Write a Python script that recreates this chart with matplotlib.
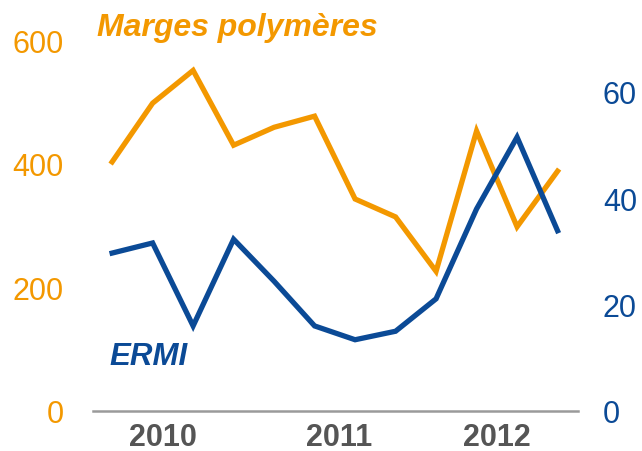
import matplotlib
matplotlib.use("Agg")
import matplotlib.pyplot as plt

plt.rcParams['font.family'] = ['Liberation Sans', 'DejaVu Sans']

# quarterly points, 2010 -> 2012
periods = list(range(12))
marges = [403, 498, 551, 430, 459, 477, 343, 314, 226, 453, 298, 388]
ermi = [29.7, 31.6, 16.0, 32.3, 24.4, 16.0, 13.4, 15.0, 21.1, 38.0, 51.5, 33.9]
year_labels = ['2010', '2011', '2012']
year_pos = [1.25, 5.6, 9.5]
left_ticks = [0, 200, 400, 600]
right_ticks = [0, 20, 40, 60]

orange = '#F39800'
blue = '#0B4A96'
grey = '#555555'

fig = plt.figure(figsize=(6.42, 4.52), dpi=100)
ax = fig.add_axes([0.145, 0.0885, 0.755, 0.867])
ax2 = ax.twinx()

ax.plot(periods, marges, color=orange, lw=3.8, solid_joinstyle='miter')
ax2.plot(periods, ermi, color=blue, lw=3.8, solid_joinstyle='miter')

ax.set_xlim(-0.47, 11.5)
ax.set_ylim(0, 634)
ax2.set_ylim(0, 73.7)

for a in (ax, ax2):
    for s in a.spines.values():
        s.set_visible(False)
ax.spines['bottom'].set_visible(True)
ax.spines['bottom'].set_color('#9a9a9a')
ax.spines['bottom'].set_linewidth(1.8)

ax.set_yticks(left_ticks)
ax.set_yticklabels([str(v) for v in left_ticks])
ax.tick_params(axis='y', length=0, pad=21, labelsize=22, labelcolor=orange)
ax2.set_yticks(right_ticks)
ax2.set_yticklabels([str(v) for v in right_ticks])
ax2.tick_params(axis='y', length=0, pad=18, labelsize=22, labelcolor=blue)

ax.set_xticks(year_pos)
ax.set_xticklabels(year_labels, fontweight='bold', color=grey)
ax.tick_params(axis='x', length=0, pad=8, labelsize=22)

fig.text(0.151, 0.920, 'Marges polymères', color=orange, fontsize=23,
         fontweight='bold', fontstyle='italic', va='baseline')
fig.text(0.171, 0.1925, 'ERMI', color=blue, fontsize=22.5,
         fontweight='bold', fontstyle='italic', va='baseline')

fig.savefig('out.png', dpi=100)
